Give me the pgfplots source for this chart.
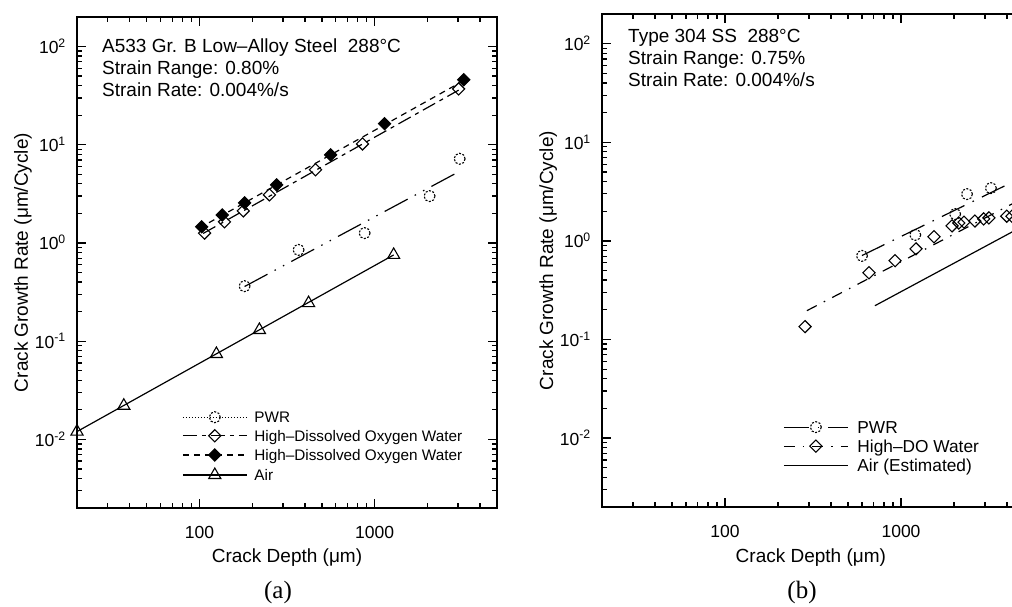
\documentclass[border=0pt]{standalone}
\usepackage{fontspec}
\setmainfont{Liberation Sans}
\newfontfamily\seriffont{Liberation Serif}
\usepackage{pgfplots}
\pgfplotsset{compat=1.18}

\pgfplotsset{
  fitline/.style={forget plot, no markers, line width=1.2pt, black},
  pts/.style={forget plot, only marks, black, line width=1.1pt},
}

\begin{document}
\begin{tikzpicture}

% ---------------- panel (a) ----------------
\begin{axis}[
  xmode=log, ymode=log,
  scale only axis,
  xmin=20, xmax=5000, ymin=0.002, ymax=200,
  xtick={100,1000}, xticklabels={100,1000},
  minor xtick={30,40,50,60,70,80,90,200,300,400,500,600,700,800,900,2000,3000,4000},
  ytick={0.01,0.1,1,10,100},
  yticklabels={10\textsuperscript{-2},10\textsuperscript{-1},10\textsuperscript{0},10\textsuperscript{1},10\textsuperscript{2}},
  minor ytick={0.003,0.004,0.005,0.006,0.007,0.008,0.009,0.02,0.03,0.04,0.05,0.06,0.07,0.08,0.09,0.2,0.3,0.4,0.5,0.6,0.7,0.8,0.9,2,3,4,5,6,7,8,9,20,30,40,50,60,70,80,90},
  tick align=inside,
  xtick pos=both, ytick pos=both,
  major tick length=9pt, minor tick length=5pt,
  tick style={black, line width=1.3pt},
  axis line style={line width=2pt},
  ticklabel style={font=\fontsize{17.5}{20}\selectfont, inner sep=0pt},
  xticklabel style={anchor=base, yshift=-30pt},
  yticklabel style={anchor=base east, xshift=-11pt, yshift=-7pt},
  label style={font=\fontsize{19}{22}\selectfont, inner sep=0pt},
  xlabel={Crack Depth (μm)},
  ylabel={Crack Growth Rate (μm/Cycle)},
  clip mode=individual,
  at={(77pt,99pt)}, anchor=south west,
  width=420pt, height=491pt,
  xlabel style={at={(axis description cs:0.5,-0.112)}, anchor=base},
  ylabel style={at={(axis description cs:-0.1167,0.5)}, anchor=base},
  legend cell align=left,
  legend image code/.code={\draw[mark repeat=2,mark phase=2,#1] plot coordinates {(0pt,0pt) (32pt,0pt) (64pt,0pt)};},
  legend style={at={(axis description cs:0.25,0.1965)}, anchor=north west,
    draw=none, fill=none, inner sep=0pt, row sep=7pt, column sep=7pt,
    font=\fontsize{15.3}{18}\selectfont,
    nodes={inner sep=0pt, text height=11pt, text depth=0pt}},
]
% fit lines
\addplot[fitline, dash pattern=on 26pt off 8pt on 1.5pt off 8pt on 1.5pt off 8pt] coordinates {(181,0.36) (3020,5.3)};
\addplot[fitline, dash pattern=on 14pt off 5pt on 4pt off 5pt] coordinates {(105,1.25) (3020,36)};
\addplot[fitline, dash pattern=on 6pt off 5pt] coordinates {(100,1.42) (3230,45)};
\addplot[fitline] coordinates {(20,0.012) (1285,0.755)};
% data
\addplot[pts, mark=o, mark size=5.5pt, mark options={dash pattern=on 2pt off 1.5pt}] coordinates {
 (181,0.363) (368,0.85) (877,1.26) (2060,3.0) (3060,7.2)};
\addplot[pts, mark=square, mark size=4.3pt, mark options={rotate=45, solid}] coordinates {
 (107,1.26) (139,1.64) (178,2.12) (251,3.09) (460,5.56) (853,10.2) (3020,37)};
\addplot[pts, mark=square*, mark size=4.3pt, mark options={rotate=45, solid, fill=black}] coordinates {
 (103,1.46) (135,1.93) (181,2.56) (276,3.9) (561,7.9) (1140,16.4) (3230,46)};
\addplot[pts, mark=triangle, mark size=7pt, mark options={solid}] coordinates {
 (20,0.012) (37,0.022) (125,0.074) (220,0.13) (420,0.244) (1285,0.755)};
% legend
\addlegendimage{line width=1.2pt, black, dash pattern=on 1.5pt off 1.5pt, mark=o, mark size=5.5pt, mark options={line width=1.1pt, dash pattern=on 2pt off 1.5pt}}
\addlegendentry{PWR}
\addlegendimage{line width=1.2pt, black, dash pattern=on 14pt off 5pt on 4pt off 5pt, mark=square, mark size=4.3pt, mark options={rotate=45, solid, line width=1.1pt}}
\addlegendentry{High–Dissolved Oxygen Water}
\addlegendimage{line width=1.2pt, black, dash pattern=on 6pt off 5pt, mark=square*, mark size=4.3pt, mark options={rotate=45, solid, fill=black, line width=1.1pt}}
\addlegendentry{High–Dissolved Oxygen Water}
\addlegendimage{line width=1.2pt, black, mark=triangle, mark size=7pt, mark options={solid, line width=1.1pt}}
\addlegendentry{Air}
% text
\node[anchor=base west, inner sep=0pt, font=\fontsize{19}{22}\selectfont] at (axis description cs:0.0595,0.9267) {A533 Gr. B Low–Alloy Steel\ \ 288°C};
\node[anchor=base west, inner sep=0pt, font=\fontsize{19}{22}\selectfont] at (axis description cs:0.0595,0.883) {Strain Range: 0.80\%};
\node[anchor=base west, inner sep=0pt, font=\fontsize{19}{22}\selectfont] at (axis description cs:0.0595,0.839) {Strain Rate: 0.004\%/s};
\node[anchor=base, inner sep=0pt, font=\seriffont\fontsize{25}{28}\selectfont] at (axis description cs:0.4786,-0.1833) {(a)};
\end{axis}

% ---------------- panel (b) ----------------
\begin{axis}[
  xmode=log, ymode=log,
  scale only axis,
  xmin=20, xmax=5000, ymin=0.002, ymax=200,
  xtick={100,1000}, xticklabels={100,1000},
  minor xtick={30,40,50,60,70,80,90,200,300,400,500,600,700,800,900,2000,3000,4000},
  ytick={0.01,0.1,1,10,100},
  yticklabels={10\textsuperscript{-2},10\textsuperscript{-1},10\textsuperscript{0},10\textsuperscript{1},10\textsuperscript{2}},
  minor ytick={0.003,0.004,0.005,0.006,0.007,0.008,0.009,0.02,0.03,0.04,0.05,0.06,0.07,0.08,0.09,0.2,0.3,0.4,0.5,0.6,0.7,0.8,0.9,2,3,4,5,6,7,8,9,20,30,40,50,60,70,80,90},
  tick align=inside,
  xtick pos=both, ytick pos=both,
  major tick length=9pt, minor tick length=5pt,
  tick style={black, line width=1.3pt},
  axis line style={line width=2pt},
  ticklabel style={font=\fontsize{17.5}{20}\selectfont, inner sep=0pt},
  xticklabel style={anchor=base, yshift=-30pt},
  yticklabel style={anchor=base east, xshift=-11pt, yshift=-7pt},
  label style={font=\fontsize{19}{22}\selectfont, inner sep=0pt},
  xlabel={Crack Depth (μm)},
  ylabel={Crack Growth Rate (μm/Cycle)},
  clip mode=individual,
  at={(602pt,100pt)}, anchor=south west,
  width=422pt, height=493pt,
  xlabel style={at={(axis description cs:0.495,-0.1116)}, anchor=base},
  ylabel style={at={(axis description cs:-0.116,0.5)}, anchor=base},
  legend cell align=left,
  legend image code/.code={\draw[mark repeat=2,mark phase=2,#1] plot coordinates {(0pt,0pt) (32pt,0pt) (64pt,0pt)};},
  legend style={at={(axis description cs:0.429,0.175)}, anchor=north west,
    draw=none, fill=none, inner sep=0pt, row sep=6.6pt, column sep=9pt,
    font=\fontsize{17.3}{20}\selectfont,
    nodes={inner sep=0pt, text height=12.4pt, text depth=0pt}},
]
\addplot[fitline, dash pattern=on 25pt off 9pt on 1.5pt off 9pt] coordinates {(600,0.71) (5000,4.5)};
\addplot[fitline, dash pattern=on 11pt off 8pt on 1.5pt off 8pt] coordinates {(292,0.196) (5000,2.74)};
\addplot[fitline] coordinates {(711,0.22) (5000,1.43)};
\addplot[pts, mark=o, mark size=5.5pt, mark options={dash pattern=on 2pt off 1.5pt}] coordinates {
 (600,0.705) (1205,1.15) (2030,1.87) (2370,2.98) (3240,3.43)};
\addplot[pts, mark=square, mark size=4.3pt, mark options={rotate=45, solid}] coordinates {
 (285,0.135) (658,0.475) (925,0.63) (1217,0.83) (1540,1.1) (1950,1.42) (2130,1.52) (2280,1.55) (2630,1.59) (2950,1.67) (3160,1.71) (3990,1.78) (4270,1.78)};
\addlegendimage{line width=1.2pt, black, dash pattern=on 25pt off 9pt on 1.5pt off 9pt, mark=o, mark size=5.5pt, mark options={line width=1.1pt, dash pattern=on 2pt off 1.5pt}}
\addlegendentry{PWR}
\addlegendimage{line width=1.2pt, black, dash pattern=on 11pt off 8pt on 1.5pt off 8pt, mark=square, mark size=4.3pt, mark options={rotate=45, solid, line width=1.1pt}}
\addlegendentry{High–DO Water}
\addlegendimage{line width=1.2pt, black}
\addlegendentry{Air (Estimated)}
\node[anchor=base west, inner sep=0pt, font=\fontsize{19}{22}\selectfont] at (axis description cs:0.0616,0.943) {Type 304 SS\ \ 288°C};
\node[anchor=base west, inner sep=0pt, font=\fontsize{19}{22}\selectfont] at (axis description cs:0.0616,0.8976) {Strain Range: 0.75\%};
\node[anchor=base west, inner sep=0pt, font=\fontsize{19}{22}\selectfont] at (axis description cs:0.0616,0.852) {Strain Rate: 0.004\%/s};
\node[anchor=base, inner sep=0pt, font=\seriffont\fontsize{25}{28}\selectfont] at (axis description cs:0.474,-0.1846) {(b)};
\end{axis}

\pgfresetboundingbox
\path[use as bounding box] (0,0) rectangle (1012pt,607pt);
\end{tikzpicture}
\end{document}
